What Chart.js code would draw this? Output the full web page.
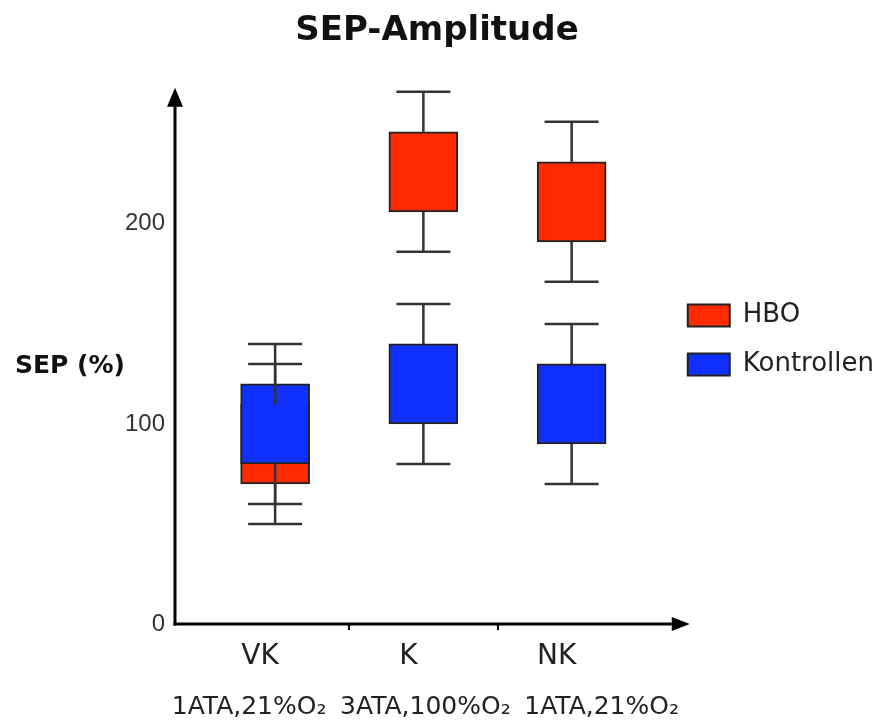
<!DOCTYPE html>
<html><head><meta charset="utf-8">
<script src="https://cdn.jsdelivr.net/npm/chart.js@4.4.0/dist/chart.umd.min.js"></script>
<style>html,body{margin:0;padding:0;background:#fff}#wrap{width:888px;height:722px}</style>
</head><body><div id="wrap"><canvas id="c"></canvas></div>
<script>
// ---- data ----
const categories = ['VK','K','NK'];
const conditions = ['1ATA,21%O₂','3ATA,100%O₂','1ATA,21%O₂'];
const seriesNames = ['HBO','Kontrollen'];
const hboMin = [50,186,171];
const hboQ1  = [70,206,191];
const hboQ3  = [110,246,231];
const hboMax = [130,266,251];
const kontMin = [60,80,70];
const kontQ1  = [80,100,90];
const kontQ3  = [120,140,130];
const kontMax = [140,160,150];
const yTicks = [0,100,200];
const yTitle = 'SEP (%)';
const chartTitle = 'SEP-Amplitude';

const whiskers = [
  {min:hboMin, q1:hboQ1, q3:hboQ3, max:hboMax},
  {min:kontMin, q1:kontQ1, q3:kontQ3, max:kontMax}
];

const whiskerPlugin = {
  id:'whiskers',
  afterDatasetsDraw(chart){
    const ctx = chart.ctx, y = chart.scales.y;
    ctx.save();
    ctx.strokeStyle = '#333'; ctx.lineWidth = 2.5;
    whiskers.forEach((w, di) => {
      const meta = chart.getDatasetMeta(di);
      meta.data.forEach((bar, i) => {
        const x = bar.x, half = 27;
        const pMax = y.getPixelForValue(w.max[i]), pQ3 = y.getPixelForValue(w.q3[i]);
        const pMin = y.getPixelForValue(w.min[i]), pQ1 = y.getPixelForValue(w.q1[i]);
        ctx.beginPath();
        ctx.moveTo(x, pQ3); ctx.lineTo(x, pMax);
        ctx.moveTo(x-half, pMax); ctx.lineTo(x+half, pMax);
        ctx.moveTo(x, pQ1); ctx.lineTo(x, pMin);
        ctx.moveTo(x-half, pMin); ctx.lineTo(x+half, pMin);
        ctx.stroke();
      });
    });
    ctx.restore();
  }
};

const AXIS_GAP = 26;   // y-axis line sits this far left of the plot area
const ARROW_RUN = 44;  // x-axis arrow tip beyond the plot area

const axesPlugin = {
  id:'axesArrows',
  afterLayout(chart){
    const a = chart.chartArea;
    const lg = chart.legend;
    if (lg) {
      const d = (a.right + 19) - lg.left;
      lg.left += d; lg.right += d;
      lg.bottom -= 42;
    }
    const s2 = chart.scales.x2;
    if (s2) {
      s2.left = a.left - 40; s2.right = a.right + ARROW_RUN;
      s2.width = s2.right - s2.left;
      s2.configure();
    }
  },
  afterDraw(chart){
    const {ctx, chartArea:a} = chart;
    const ax = a.left - AXIS_GAP, ay = a.bottom;
    ctx.save();
    ctx.strokeStyle = '#000'; ctx.fillStyle = '#000'; ctx.lineWidth = 3;
    ctx.beginPath(); ctx.moveTo(ax, ay + 1.5); ctx.lineTo(ax, a.top + 10); ctx.stroke();
    ctx.beginPath(); ctx.moveTo(ax - 1.5, ay); ctx.lineTo(a.right + ARROW_RUN - 18, ay); ctx.stroke();
    ctx.beginPath(); ctx.moveTo(ax, a.top - 2); ctx.lineTo(ax - 8, a.top + 17); ctx.lineTo(ax + 8, a.top + 17); ctx.closePath(); ctx.fill();
    ctx.beginPath(); ctx.moveTo(a.right + ARROW_RUN, ay); ctx.lineTo(a.right + ARROW_RUN - 18, ay - 7); ctx.lineTo(a.right + ARROW_RUN - 18, ay + 7); ctx.closePath(); ctx.fill();
    ctx.font = 'bold 25px "DejaVu Sans"';
    ctx.textAlign = 'center'; ctx.textBaseline = 'middle'; ctx.fillStyle = '#111';
    ctx.fillText(yTitle, 70, (a.top + a.bottom) / 2 + 10);
    ctx.restore();
  }
};

new Chart(document.getElementById('c'), {
  type:'bar',
  data:{
    labels: categories,
    datasets:[
      { label: seriesNames[0], data: hboQ1.map((v,i)=>[v, hboQ3[i]]), backgroundColor:'#ff2a00', borderColor:'#222', borderWidth:2, borderSkipped:false, grouped:false, barThickness:69, order:2 },
      { label: seriesNames[1], data: kontQ1.map((v,i)=>[v, kontQ3[i]]), backgroundColor:'#1030ff', borderColor:'#222', borderWidth:2, borderSkipped:false, grouped:false, barThickness:69, order:1 }
    ]
  },
  options:{
    responsive:true, maintainAspectRatio:false, animation:false,
    layout:{ padding:{left:19.5, right:33.5, top:0, bottom:0} },
    plugins:{
      title:{ display:true, text:chartTitle, color:'#111', font:{family:'DejaVu Sans', size:34, weight:'bold'}, padding:{top:11, bottom:38} },
      legend:{ position:'right', align:'center',
        labels:{ boxWidth:42, boxHeight:22, color:'#222', padding:23, font:{family:'DejaVu Sans', size:26},
          sort:(a,b)=>a.datasetIndex-b.datasetIndex } },
      tooltip:{ enabled:false }
    },
    scales:{
      x:{
        type:'category', weight:0,
        border:{display:false},
        grid:{ display:true, drawOnChartArea:false, drawTicks:true, tickLength:6, lineWidth:2,
          color:(c)=> (c.type !== 'tick' || c.index === 0) ? 'rgba(0,0,0,0)' : '#000' },
        ticks:{ color:'#222', font:{family:'DejaVu Sans', size:28, lineHeight:1.2}, padding:10, labelOffset:-15, maxRotation:0, autoSkip:false },
        afterFit:(s)=>{ s.height = 48; }
      },
      x2:{
        type:'category', position:'bottom', weight:1, offset:true,
        labels: conditions,
        border:{display:false},
        grid:{ display:false, drawTicks:false },
        ticks:{ color:'#222', font:{family:'DejaVu Sans', size:25, lineHeight:1.2}, padding:20, maxRotation:0, autoSkip:false },
        afterFit:(s)=>{ s.height = 50; }
      },
      y:{
        min:0, max:267,
        border:{display:false},
        grid:{display:false, drawTicks:false},
        ticks:{ color:'#333', font:{family:'Liberation Sans', size:24}, padding:36 },
        afterBuildTicks:(s)=>{ s.ticks = yTicks.map(v=>({value:v})); },
        afterFit:(s)=>{ s.width = 181.5; }
      }
    }
  },
  plugins:[whiskerPlugin, axesPlugin]
});
</script></body></html>
